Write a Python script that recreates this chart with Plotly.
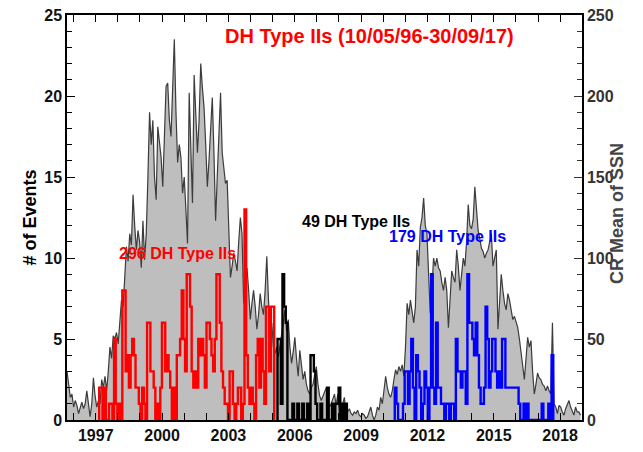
import plotly.graph_objects as go

# Carrington-rotation grid (index 0 = first CR shown)
first_cr_year = 1995.70
cr_length_years = 0.07467

# CR mean sunspot number (one value per Carrington rotation)
ssn = [
    30, 22, 14, 16, 8, 12, 9, 4, 7, 11, 7, 10, 18, 9, 2, 10, 26, 15, 8, 12,
    10, 25, 20, 27, 18, 30, 45, 38, 52, 50, 54, 47, 58, 74, 70, 86, 107, 98, 115, 108,
    139, 120, 105, 117, 110, 94, 123, 99, 115, 150, 190, 170, 185, 150, 136, 181, 170, 162, 144, 175,
    206, 208, 185, 175, 200, 235, 190, 159, 170, 162, 140, 150, 130, 109, 202, 160, 134, 213, 190, 165,
    185, 220, 205, 193, 170, 144, 160, 177, 199, 165, 123, 150, 175, 202, 165, 155, 146, 148, 120, 88,
    95, 103, 98, 92, 110, 125, 115, 72, 85, 94, 80, 62, 72, 80, 70, 56, 65, 78, 70, 65,
    80, 101, 75, 51, 60, 45, 41, 45, 39, 48, 53, 60, 68, 55, 62, 45, 35, 42, 51, 38,
    27, 43, 32, 25, 30, 22, 18, 16, 20, 22, 28, 33, 22, 15, 12, 15, 17, 20, 12, 8,
    10, 13, 16, 9, 16, 2, 6, 10, 14, 3, 5, 7, 4, 3, 5, 4, 6, 3, 2, 4,
    3, 1, 2, 5, 8, 3, 0, 3, 8, 6, 14, 10, 18, 27, 20, 16, 14, 18, 25, 31,
    28, 33, 30, 34, 27, 45, 72, 65, 74, 68, 60, 70, 105, 95, 119, 125, 137, 120, 115, 90,
    66, 80, 100, 95, 100, 94, 92, 85, 80, 88, 80, 57, 75, 92, 88, 85, 105, 95, 80, 90,
    100, 95, 110, 133, 120, 118, 124, 144, 128, 117, 112, 106, 104, 100, 103, 105, 110, 115, 95, 100,
    105, 56, 75, 90, 80, 72, 68, 78, 74, 68, 62, 64, 60, 57, 50, 41, 35, 25, 38, 51,
    45, 49, 30, 16, 22, 29, 26, 25, 22, 21, 18, 21, 18, 16, 60, 10, 8, 4, 9, 8,
    5, 3, 7, 10, 12, 8, 6, 3, 8, 5, 5, 3,
]

# DH type II counts per CR, three groups
red_start = 19
red_counts = [
    0, 2, 2, 0, 2, 0, 0, 1, 1, 0, 5, 1, 0, 1, 0, 8, 8, 3, 4, 2,
    4, 5, 4, 2, 2, 1, 0, 2, 1, 0, 6, 6, 3, 3, 2, 0, 1, 0, 2, 6,
    6, 3, 4, 3, 2, 0, 2, 0, 4, 4, 5, 8, 5, 3, 9, 9, 7, 3, 2, 3,
    2, 5, 4, 5, 4, 2, 6, 6, 5, 4, 3, 5, 9, 9, 6, 3, 2, 1, 1, 0,
    3, 3, 1, 0, 1, 2, 2, 0, 1, 13, 4, 2, 1, 2, 1, 0, 4, 5, 2, 5,
    3, 1, 7, 7, 3, 7, 7, 0,
]
black_start = 127
black_counts = [
    0, 5, 5, 1, 9, 7, 6, 0, 0, 0, 1, 0, 0, 1, 0, 0, 1, 0, 0, 1,
    0, 4, 4, 3, 1, 0, 0, 1, 0, 0, 0, 2, 0, 0, 1, 0, 1, 1, 2, 0,
    1, 0, 1, 0,
]
blue_start = 198
blue_counts = [
    0, 2, 1, 0, 0, 0, 1, 3, 3, 1, 3, 5, 2, 0, 4, 3, 2, 0, 1, 3,
    2, 0, 2, 9, 2, 1, 6, 2, 2, 1, 1, 0, 1, 1, 0, 1, 1, 0, 5, 3,
    3, 2, 3, 3, 1, 9, 6, 6, 5, 4, 6, 4, 2, 1, 1, 2, 7, 5, 2, 3,
    5, 5, 3, 2, 3, 2, 5, 5, 2, 2, 2, 2, 2, 2, 2, 2, 1, 0, 0, 1,
    0, 1, 0, 0, 0, 0, 0, 0, 0, 0, 1, 0, 0, 0, 1, 0, 4, 0,
]

x_tick_years = [1997, 2000, 2003, 2006, 2009, 2012, 2015, 2018]
title_text = "DH Type IIs (10/05/96-30/09/17)"
group_labels = ["296 DH Type IIs", "49 DH Type IIs", "179 DH Type IIs"]
left_title = "# of Events"
right_title = "CR Mean of SSN"


def cr_years(start, n):
    return [first_cr_year + (start + k) * cr_length_years for k in range(n)]


fig = go.Figure()

fig.add_trace(go.Scatter(
    x=cr_years(0, len(ssn)), y=ssn, mode="lines",
    line=dict(color="#3c3c3c", width=1.2),
    fill="tozeroy", fillcolor="#bebebe",
    yaxis="y", showlegend=False, hoverinfo="skip",
))


def hist_trace(start, counts, color):
    xs = cr_years(start, len(counts))
    return go.Scatter(
        x=xs, y=counts, mode="lines", yaxis="y2",
        line=dict(color=color, width=2.4, shape="hvh"),
        showlegend=False, hoverinfo="skip",
    )


fig.add_trace(hist_trace(red_start, red_counts, "#ff0000"))
fig.add_trace(hist_trace(black_start, black_counts, "#000000"))
fig.add_trace(hist_trace(blue_start, blue_counts, "#0000ff"))

FAM = "Liberation Sans, Arial, sans-serif"
tick_font = dict(family=FAM, size=16, color="#111111", weight="bold")

# page body has an 8px margin, so the figure is sized to fit inside it
fig.update_layout(
    width=635, height=444,
    margin=dict(l=59, r=61, t=7, b=32),
    paper_bgcolor="white", plot_bgcolor="white",
    font=dict(family=FAM),
    xaxis=dict(
        range=[1995.70, 2018.99], automargin=False,
        tickvals=x_tick_years, ticktext=[str(v) for v in x_tick_years],
        ticks="inside", ticklen=7, tickwidth=1.2, tickcolor="black",
        minor=dict(ticks="inside", dtick=1, tick0=1997, ticklen=5, tickwidth=1, tickcolor="black"),
        showline=True, linecolor="black", linewidth=1.5, mirror="allticks",
        showgrid=False, zeroline=False, ticklabeloverflow="allow",
        tickfont=tick_font,
    ),
    yaxis=dict(
        range=[0, 250], side="right", automargin=False,
        tickvals=[0, 50, 100, 150, 200, 250],
        ticks="inside", ticklen=8, tickwidth=1.2, tickcolor="#333333",
        minor=dict(ticks="inside", dtick=10, ticklen=5, tickwidth=1, tickcolor="#333333"),
        showline=True, linecolor="black", linewidth=1.5,
        showgrid=False, zeroline=False, ticklabeloverflow="allow",
        tickfont=dict(family=FAM, size=16, color="#333333", weight="bold"),
    ),
    yaxis2=dict(
        range=[0, 25], side="left", overlaying="y", automargin=False,
        tickvals=[0, 5, 10, 15, 20, 25],
        ticks="inside", ticklen=8, tickwidth=1.2, tickcolor="black",
        minor=dict(ticks="inside", dtick=1, ticklen=5, tickwidth=1, tickcolor="black"),
        showline=True, linecolor="black", linewidth=1.5,
        showgrid=False, zeroline=False, ticklabeloverflow="allow",
        tickfont=tick_font,
    ),
)

ann_font = dict(family=FAM, weight="bold")


def label(x, y, text, size, color, angle=0):
    fig.add_annotation(xref="paper", yref="paper", x=x, y=y, text=text, textangle=angle,
                       xanchor="center", yanchor="middle", showarrow=False,
                       font=dict(**ann_font, size=size, color=color))


label(-0.072, 0.50, left_title, 18, "black", -90)
label(1.069, 0.51, right_title, 18, "#444444", -90)
label(0.588, 0.948, title_text, 20, "#ff0000")
label(0.214, 0.412, group_labels[0], 16, "#ff0000")
label(0.561, 0.489, group_labels[1], 16, "black")
label(0.738, 0.452, group_labels[2], 16, "#0000ff")

fig.write_html("out.html")
